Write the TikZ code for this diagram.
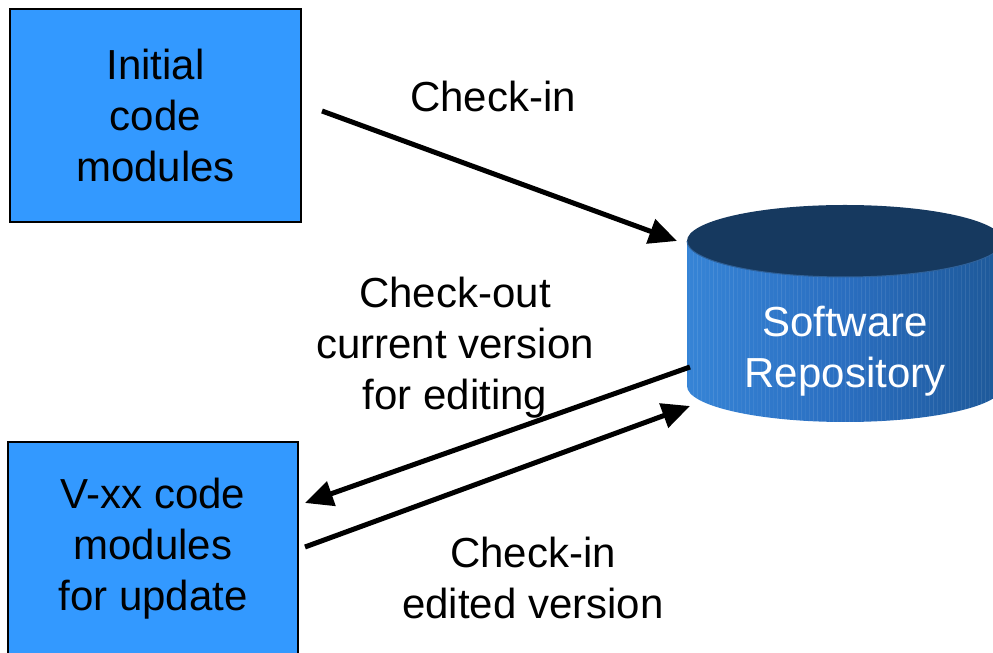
\documentclass[tikz,border=0pt]{standalone}
\usepackage{fontspec}
\setmainfont{Liberation Sans}
\usetikzlibrary{arrows.meta}
\definecolor{boxblue}{HTML}{3399FF}
\definecolor{cylleft}{HTML}{3684D6}
\definecolor{cylmid}{HTML}{2A6EC0}
\definecolor{cylright}{HTML}{1D5898}
\definecolor{cyltop}{HTML}{16395F}
\definecolor{cylrim}{HTML}{2F629B}
\tikzset{
  modbox/.style={draw=black, line width=1.6pt, fill=boxblue, align=center,
    font=\fontsize{42}{51}\selectfont, inner sep=0pt},
  lbl/.style={align=center, font=\fontsize{42}{51}\selectfont, inner sep=0pt},
  flow/.style={line width=5pt, -{Triangle[length=28pt,width=25pt]}},
}
\begin{document}
\begin{tikzpicture}[x=1pt,y=1pt]
\useasboundingbox (0,0) rectangle (993,653);
\clip (0,0) rectangle (993,653);

% module boxes
\node[modbox, minimum width=291pt, minimum height=213pt] (init) at (155.5,537.5)
  {Initial\\code\\modules};
\node[modbox, minimum width=290pt, minimum height=214pt] (vxx) at (153,104)
  {V-xx code\\modules\\for update};

% repository cylinder: shaded body, faint vertical grain, dark lid
\shade[left color=cylleft, right color=cylright, middle color=cylmid]
  (687,412) -- (687,267) arc[start angle=180, end angle=360, x radius=158, y radius=36]
  -- (1003,412) -- cycle;
\begin{scope}
  \clip (687,412) -- (687,267) arc[start angle=180, end angle=360, x radius=158, y radius=36]
    -- (1003,412) -- cycle;
  \foreach \i in {0,...,78} {
    \pgfmathsetmacro{\op}{0.03+0.07*abs(sin(\i*137))}
    \draw[white, opacity=\op, line width=0.7pt] (689+4*\i,230) -- (689+4*\i,420);
  }
\end{scope}
\fill[cyltop] (845,412) ellipse[x radius=158, y radius=36];
\draw[cylrim, line width=1pt] (687,412) arc[start angle=180, end angle=360, x radius=158, y radius=36];
\node[lbl, text=white] (repo) at (845,302) {Software\\Repository};

% arrow end points
\coordinate (a1s) at (322,542);
\coordinate (a1e) at (677,412);
\coordinate (a2s) at (690,286);
\coordinate (a2e) at (305,150);
\coordinate (a3s) at (305,106);
\coordinate (a3e) at (690,247);

% connectors
\draw[flow] (a1s) -- (a1e);
\draw[flow] (a2s) -- (a2e);
\draw[flow] (a3s) -- (a3e);

% connector labels
\node[lbl] (l1) at (493,557) {Check-in};
\node[lbl] (l2) at (455,305) {Check-out\\current version\\for editing};
\node[lbl] (l3) at (533,75) {Check-in\\edited version};
\end{tikzpicture}
\end{document}
